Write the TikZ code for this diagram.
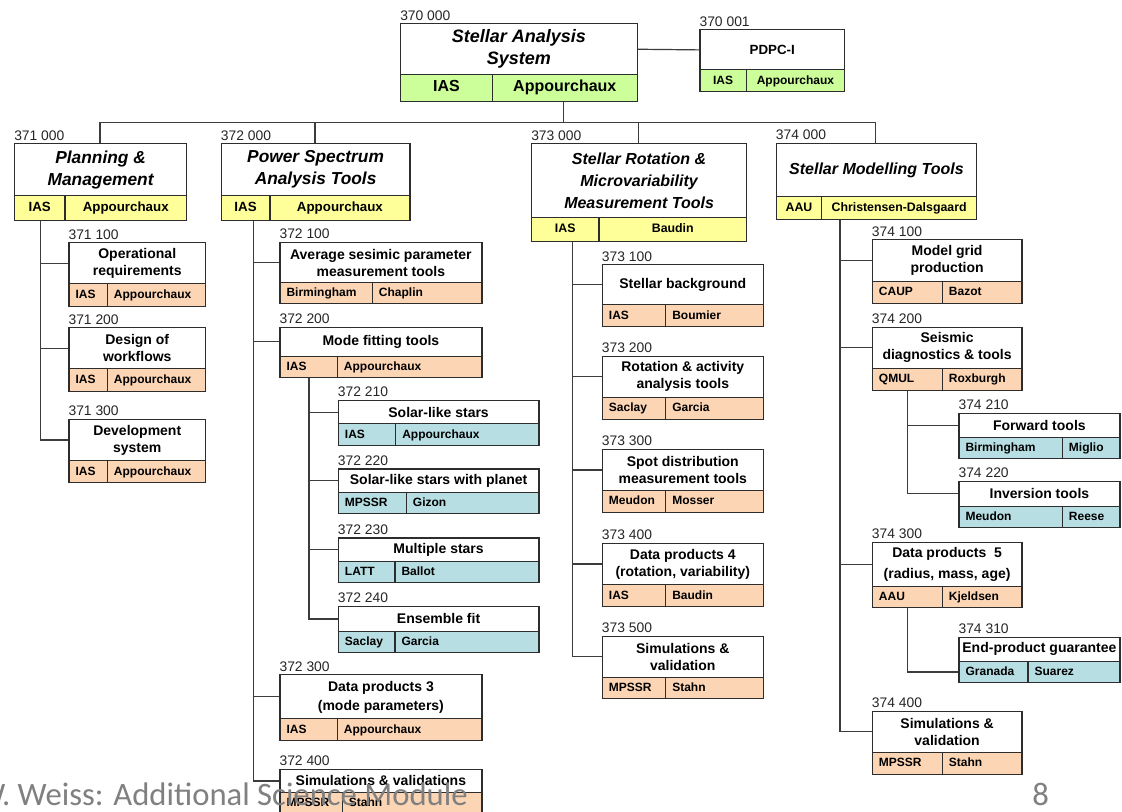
\documentclass[tikz,border=0pt]{standalone}
\usepackage{fontspec}
\setmainfont{Liberation Sans}
\newfontfamily\footfont{Carlito}
\usetikzlibrary{calc}
\definecolor{gr}{RGB}{204,255,153}
\definecolor{ye}{RGB}{255,255,153}
\definecolor{pe}{RGB}{252,213,181}
\definecolor{te}{RGB}{183,222,226}
\definecolor{bord}{RGB}{45,45,45}
\definecolor{wirec}{RGB}{60,60,60}
\definecolor{footgray}{RGB}{128,128,128}
\tikzset{
  lbl/.style={inner sep=0, font=\fontsize{10.4}{12}\selectfont, text=black!85},
  tbox/.style={draw=bord, line width=0.9pt, inner sep=0, align=center, fill=white,
    font=\bfseries\fontsize{10.5}{12.75}\selectfont},
  cbox/.style={draw=bord, line width=0.9pt, inner sep=0},
  ctxt/.style={inner sep=0, font=\bfseries\fontsize{9}{11}\selectfont},
  t0/.style={font=\bfseries\itshape\fontsize{13.5}{16.5}\selectfont},
  t1/.style={font=\bfseries\itshape\fontsize{13}{16.5}\selectfont},
  t1s/.style={font=\bfseries\itshape\fontsize{12}{16.5}\selectfont},
  tp/.style={font=\bfseries\fontsize{10}{12}\selectfont},
  t2/.style={},
  c0/.style={font=\bfseries\fontsize{12}{14}\selectfont},
  c1/.style={font=\bfseries\fontsize{10}{12}\selectfont},
  c1s/.style={font=\bfseries\fontsize{9.25}{11}\selectfont},
  c2/.style={},
  wire/.style={draw=wirec, line width=0.9pt},
  foot/.style={inner sep=0, font=\footfont\fontsize{24.5}{28}\selectfont, text=footgray},
}
% #1 name #2 label #3 x1 #4 x2 #5 ytop #6 ysep #7 ybot #8 xdiv #9 title
\newcommand\BOX[9]{\def\Bname{#1}\def\Blabel{#2}\def\Bxa{#3}\def\Bxb{#4}%
  \def\Bya{#5}\def\Byb{#6}\def\Byc{#7}\def\Bxd{#8}\def\Btitle{#9}\BOXrest}
% #1 title style #2 fill #3 cell style #4 align c/l #5 left #6 right
\newcommand\BOXrest[6]{%
  \node[lbl, anchor=base west] (\Bname-n) at (\Bxa,\Bya-3) {\Blabel};
  \node[tbox, #1, anchor=north west, minimum width={(\Bxb-\Bxa)*0.75pt},
    minimum height={(\Byb-\Bya)*0.75pt}] (\Bname) at (\Bxa,\Bya) {\Btitle};
  \node[cbox, fill=#2, anchor=north west, minimum width={(\Bxd-\Bxa)*0.75pt},
    minimum height={(\Byc-\Byb)*0.75pt}] (\Bname-l) at (\Bxa,\Byb) {};
  \node[cbox, fill=#2, anchor=north west, minimum width={(\Bxb-\Bxd)*0.75pt},
    minimum height={(\Byc-\Byb)*0.75pt}] (\Bname-r) at (\Bxd,\Byb) {};
  \if c#4
    \node[ctxt, #3, anchor=mid] (\Bname-lt) at (\Bname-l.center) {#5};
    \node[ctxt, #3, anchor=mid] (\Bname-rt) at (\Bname-r.center) {#6};
  \else
    \node[ctxt, #3, anchor=mid west] (\Bname-lt) at ([xshift=5.25pt]\Bname-l.west) {#5};
    \node[ctxt, #3, anchor=mid west] (\Bname-rt) at ([xshift=5.25pt]\Bname-r.west) {#6};
  \fi
}
\begin{document}
\begin{tikzpicture}[x=0.75pt,y=-0.75pt]
\useasboundingbox (0,0) rectangle (1122,812);
\clip (0,0) rectangle (1122,812);
\fill[white] (0,0) rectangle (1122,812);

% root and PDPC
\BOX{r0}{370 000}{400}{636.7}{23.3}{74}{101}{491.7}{Stellar Analysis\\System}{t0}{gr}{c0}{c}{IAS}{Appourchaux}
\BOX{p0}{370 001}{699.3}{844}{29.3}{69.3}{90.7}{745.7}{PDPC-I}{tp}{gr}{c2}{c}{IAS}{Appourchaux}

% level 1
\BOX{a0}{371 000}{14}{186}{143.3}{195}{220}{64.3}{Planning \&\\Management}{t1}{ye}{c1}{c}{IAS}{Appourchaux}
\BOX{b0}{372 000}{220.7}{409.3}{143.3}{195}{220}{269.3}{Power Spectrum\\Analysis Tools}{t1}{ye}{c1}{c}{IAS}{Appourchaux}
\BOX{c0}{373 000}{531}{746}{143.3}{216.7}{241}{598.3}{Stellar Rotation \&\\Microvariability\\Measurement Tools}{t1s}{ye}{c1s}{c}{IAS}{Baudin}
\BOX{d0}{374 000}{775.7}{976}{143}{195.7}{218.7}{821}{Stellar Modelling Tools}{t1s}{ye}{c1s}{c}{AAU}{Christensen-Dalsgaard}

% 371
\BOX{a1}{371 100}{68.3}{205}{242.3}{283.3}{305.7}{106.7}{Operational\\requirements}{t2}{pe}{c2}{l}{IAS}{Appourchaux}
\BOX{a2}{371 200}{68.3}{205}{327.3}{368.3}{390.7}{106.7}{Design of\\workflows}{t2}{pe}{c2}{l}{IAS}{Appourchaux}
\BOX{a3}{371 300}{68.3}{205}{419}{460}{482.3}{106.7}{Development\\system}{t2}{pe}{c2}{l}{IAS}{Appourchaux}

% 372
\BOX{b1}{372 100}{279.3}{481.3}{241.7}{282.3}{303.3}{371.7}{Average sesimic parameter\\measurement tools}{t2}{pe}{c2}{l}{Birmingham}{Chaplin}
\BOX{b2}{372 200}{279.3}{481.3}{326.7}{355.7}{377.3}{336.7}{Mode fitting tools}{t2}{pe}{c2}{l}{IAS}{Appourchaux}
\BOX{b21}{372 210}{337.7}{538.3}{400}{423.3}{445}{395}{Solar-like stars}{t2}{te}{c2}{l}{IAS}{Appourchaux}
\BOX{b22}{372 220}{337.7}{538.3}{468.4}{491.7}{513.3}{405.7}{Solar-like stars with planet}{t2}{te}{c2}{l}{MPSSR}{Gizon}
\BOX{b23}{372 230}{337.7}{538.3}{537.5}{561}{582.3}{394.3}{Multiple stars}{t2}{te}{c2}{l}{LATT}{Ballot}
\BOX{b24}{372 240}{337.7}{538.3}{606}{630.7}{651.7}{394.3}{Ensemble fit}{t2}{te}{c2}{l}{Saclay}{Garcia}
\BOX{b3}{372 300}{279.3}{481.3}{674.3}{718.3}{740}{336.7}{Data products 3\\[1.5pt](mode parameters)}{t2}{pe}{c2}{l}{IAS}{Appourchaux}
\BOX{b4}{372 400}{279.3}{481.3}{769}{791.7}{814}{341.7}{Simulations \& validations}{t2}{pe}{c2}{l}{MPSSR}{Stahn}

% 373
\BOX{c1}{373 100}{601.7}{762.7}{264.3}{304.3}{325.7}{665}{Stellar background}{t2}{pe}{c2}{l}{IAS}{Boumier}
\BOX{c2}{373 200}{601.7}{762.7}{355.7}{396.7}{419}{665}{Rotation \& activity\\analysis tools}{t2}{pe}{c2}{l}{Saclay}{Garcia}
\BOX{c3}{373 300}{601.7}{762.7}{449}{490}{511.7}{665}{Spot distribution\\measurement tools}{t2}{pe}{c2}{l}{Meudon}{Mosser}
\BOX{c4}{373 400}{601.7}{762.7}{542.7}{584}{606}{665}{Data products 4\\(rotation, variability)}{t2}{pe}{c2}{l}{IAS}{Baudin}
\BOX{c5}{373 500}{601.7}{762.7}{635.7}{676.7}{698.3}{665}{Simulations \&\\validation}{t2}{pe}{c2}{l}{MPSSR}{Stahn}

% 374
\BOX{d1}{374 100}{871.7}{1021.3}{239.3}{280.7}{302.7}{941.7}{Model grid\\production}{t2}{pe}{c2}{l}{CAUP}{Bazot}
\BOX{d2}{374 200}{871.7}{1021.3}{326.7}{367.7}{390}{941.7}{Seismic\\diagnostics \& tools}{t2}{pe}{c2}{l}{QMUL}{Roxburgh}
\BOX{d21}{374 210}{958.3}{1119.3}{412.7}{437.3}{458.3}{1061.7}{Forward tools}{t2}{te}{c2}{l}{Birmingham}{Miglio}
\BOX{d22}{374 220}{958.3}{1119.3}{480.7}{505.7}{527.3}{1061.7}{Inversion tools}{t2}{te}{c2}{l}{Meudon}{Reese}
\BOX{d3}{374 300}{871.7}{1021.3}{541.7}{585.7}{607.3}{941.7}{Data products\ \ 5\\[3pt](radius, mass, age)}{t2}{pe}{c2}{l}{AAU}{Kjeldsen}
\BOX{d31}{374 310}{958.3}{1119.3}{636.7}{660.7}{682.3}{1027.3}{End-product guarantee}{t2}{te}{c2}{l}{Granada}{Suarez}
\BOX{d4}{374 400}{871.7}{1021.3}{710.7}{751.7}{774}{941.7}{Simulations \&\\validation}{t2}{pe}{c2}{l}{MPSSR}{Stahn}

% connectors: top level
\coordinate (xr) at (563.3,0);
\coordinate (bus) at (0,122.7);
\coordinate (xa) at (100,0);
\coordinate (xb) at (315,0);
\coordinate (xc) at (638.3,0);
\coordinate (xd) at (875.7,0);
\draw[wire] (r0.east) -- (p0.west);
\draw[wire] (r0-r.south -| xr) -- (xr |- bus);
\draw[wire] (a0.north -| xa) -- (xa |- bus) -- (xd |- bus) -- (d0.north -| xd);
\draw[wire] (b0.north -| xb) -- (xb |- bus);
\draw[wire] (c0.north -| xc) -- (xc |- bus);

% 371 branch
\coordinate (va) at (40.7,0);
\draw[wire] (a0-l.south -| va) |- (a3.west);
\draw[wire] (va |- a1.west) -- (a1.west);
\draw[wire] (va |- a2.west) -- (a2.west);

% 372 branch
\coordinate (vb) at (253.3,0);
\draw[wire] (b0-l.south -| vb) |- (b4.west);
\draw[wire] (vb |- b1.west) -- (b1.west);
\draw[wire] (vb |- b2.west) -- (b2.west);
\draw[wire] (vb |- b3.west) -- (b3.west);
\coordinate (vb2) at (309,0);
\draw[wire] (b2-l.south -| vb2) |- (b24.west);
\draw[wire] (vb2 |- b21.west) -- (b21.west);
\draw[wire] (vb2 |- b22.west) -- (b22.west);
\draw[wire] (vb2 |- b23.west) -- (b23.west);

% 373 branch
\coordinate (vc) at (572.3,0);
\draw[wire] (c0-l.south -| vc) |- (c5.west);
\draw[wire] (vc |- c1.west) -- (c1.west);
\draw[wire] (vc |- c2.west) -- (c2.west);
\draw[wire] (vc |- c3.west) -- (c3.west);
\draw[wire] (vc |- c4.west) -- (c4.west);

% 374 branch
\coordinate (vd) at (840,0);
\draw[wire] (d0-l.south -| vd) |- (d4.west);
\draw[wire] (vd |- d1.west) -- (d1.west);
\draw[wire] (vd |- d2.west) -- (d2.west);
\draw[wire] (vd |- d3.west) -- (d3.west);
\coordinate (vd2) at (907.3,0);
\draw[wire] (d2-l.south -| vd2) |- (d22.west);
\draw[wire] (vd2 |- d21.west) -- (d21.west);
\draw[wire] (d3-l.south -| vd2) |- (d31-l.west);

% footer
\node[foot, anchor=base west] (ft) at (-24,806) {W. Weiss: Additional Science Module};
\node[foot, anchor=base west] (pg) at (1032,806) {8};
\end{tikzpicture}
\end{document}
